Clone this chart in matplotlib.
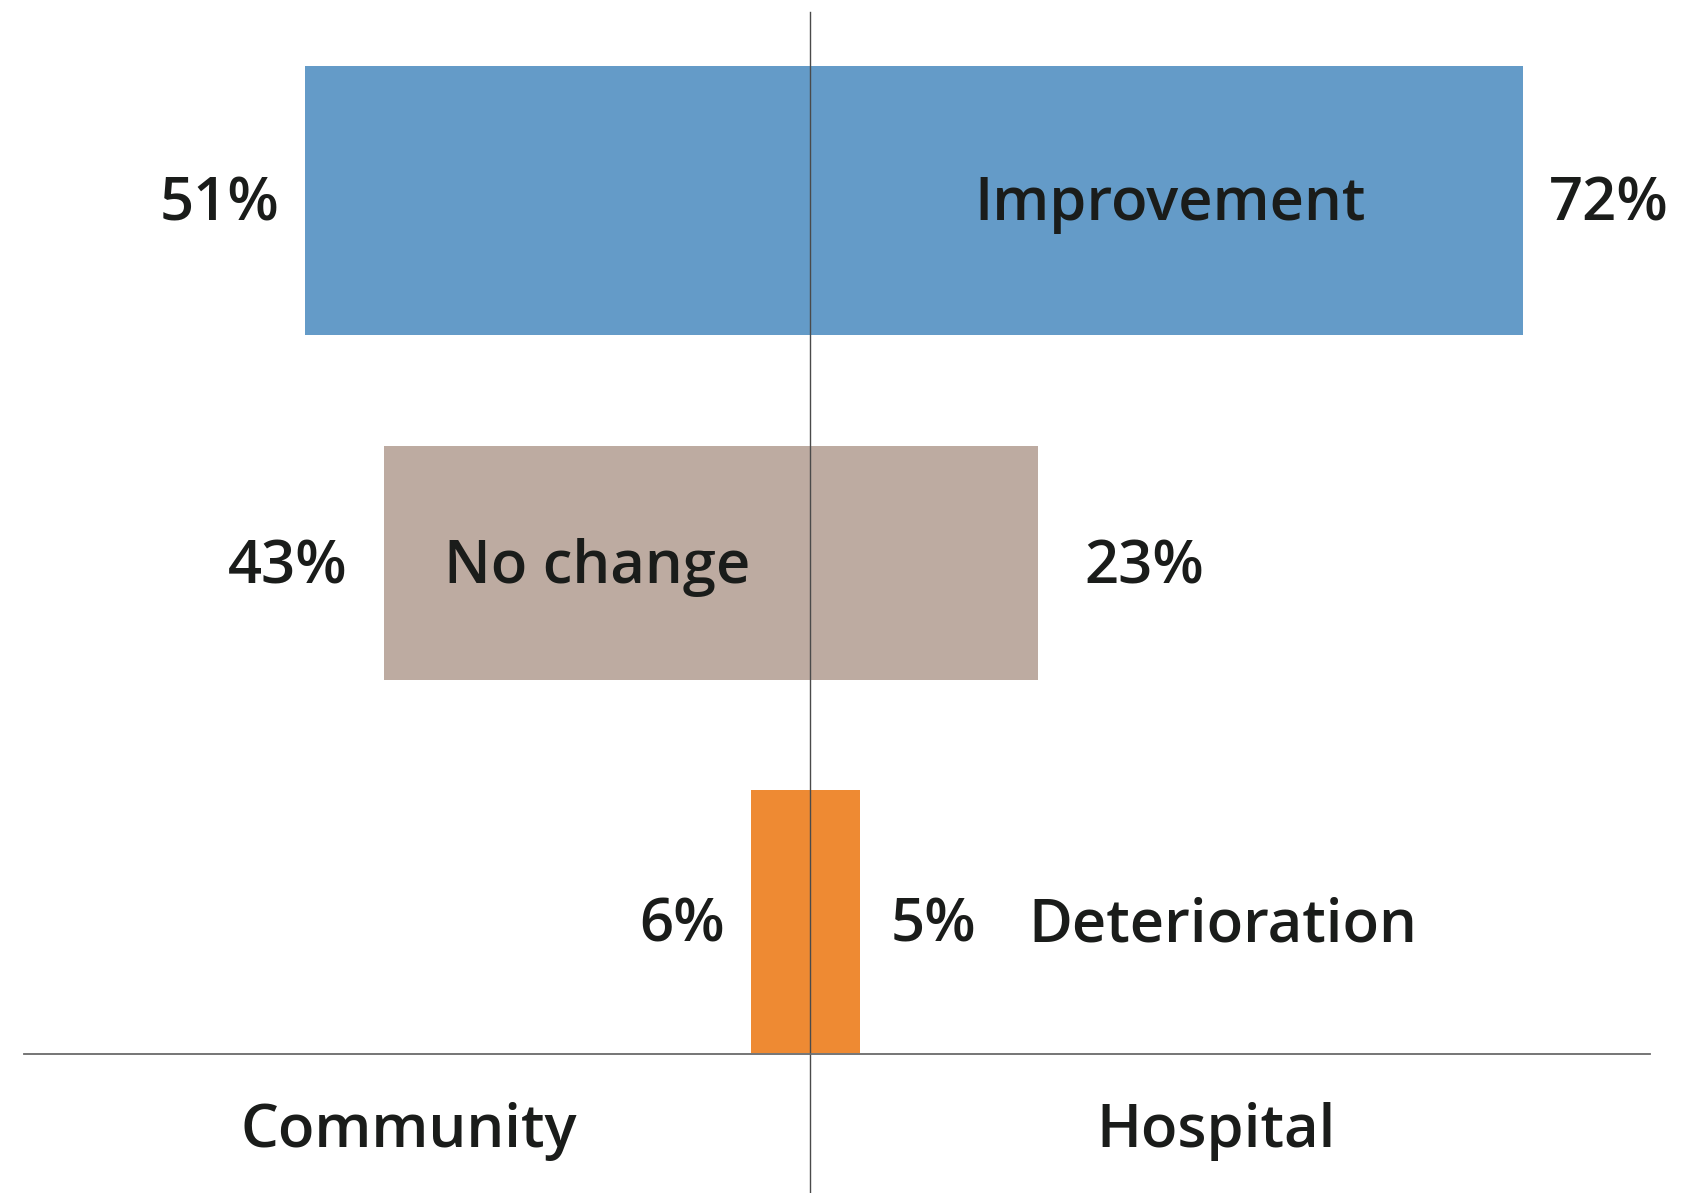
import matplotlib.pyplot as plt

categories = ['Improvement', 'No change', 'Deterioration']
community = [51, 43, 6]
hospital = [72, 23, 5]
group_labels = ['Community', 'Hospital']

# styling / layout (pixel units on the y axis, % on the x axis)
colors = ['#649BC8', '#BDABA1', '#EE8A33']
row_top = [66, 446, 790]
row_bottom = [335, 680, 1053]
left_gap = [2.6, 3.7, 2.6]
right_gap = [2.6, 4.7, 3.1]
txt_color = '#1a1c1a'
FS = 43

plt.rcParams['font.family'] = ['Open Sans', 'DejaVu Sans']

W, H = 1682, 1193
PX = 9.9  # pixels per percent
CX = 810

fig = plt.figure(figsize=(W / 100, H / 100), dpi=100)
ax = fig.add_axes([0, 0, 1, 1])
ax.set_xlim(-CX / PX, (W - CX) / PX)
ax.set_ylim(H, 0)
ax.axis('off')

centers = [(t + b) / 2 for t, b in zip(row_top, row_bottom)]
heights = [b - t for t, b in zip(row_top, row_bottom)]

ax.barh(centers, [-v for v in community], height=heights, color=colors, zorder=1)
ax.barh(centers, hospital, height=heights, color=colors, zorder=1)

txt = dict(fontsize=FS, fontweight='semibold', color=txt_color, va='baseline')
for i, cat in enumerate(categories):
    base = centers[i] + 20
    ax.text(-community[i] - left_gap[i], base, f'{community[i]}%', ha='right', **txt)
    ax.text(hospital[i] + right_gap[i], base, f'{hospital[i]}%', ha='left', **txt)

ax.text(hospital[0] / 2 + 0.4, centers[0] + 20, categories[0], ha='center', **txt)
ax.text(-community[1] / 2, centers[1] + 20, categories[1], ha='center', **txt)
ax.text(hospital[2] + right_gap[2] + 14, centers[2] + 20, categories[2], ha='left', **txt)

ax.text(-40.5, 1147, group_labels[0], ha='center', **txt)
ax.text(41, 1147, group_labels[1], ha='center', **txt)

# axes lines
ax.plot([0, 0], [12, H], color='#4a4a4a', lw=1.0, zorder=3)
ax.plot([(24 - CX) / PX, (1650 - CX) / PX], [1054, 1054], color='#6a6a6a', lw=1.3, zorder=3)

fig.savefig('out.png', dpi=100)
